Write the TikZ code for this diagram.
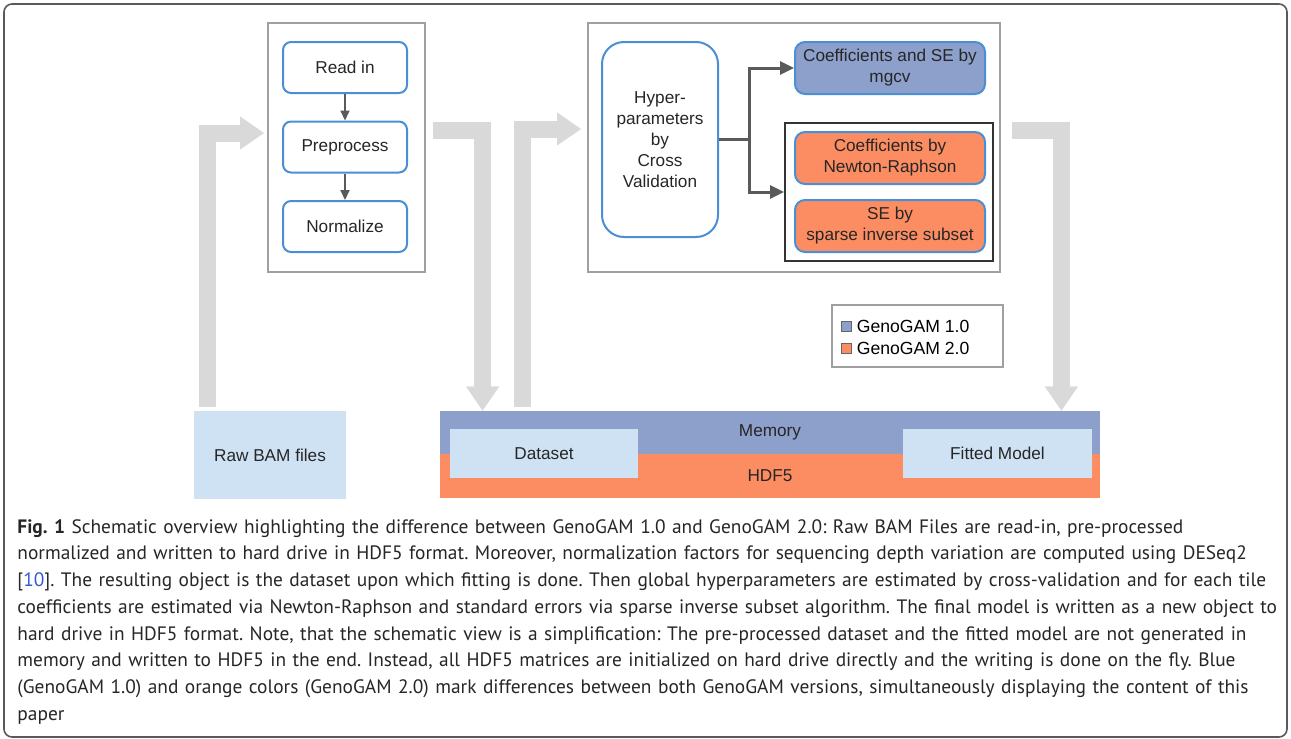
\documentclass[tikz,border=0pt]{standalone}
\usepackage{fontspec}
\setmainfont{Liberation Sans}
\newfontfamily\leyendafont{PT Sans}
\usetikzlibrary{arrows.meta,positioning}
\definecolor{grisflecha}{HTML}{D9D9D9}
\definecolor{grisborde}{HTML}{A0A0A0}
\definecolor{grisoscuro}{HTML}{5A5A5A}
\definecolor{bordeazul}{HTML}{4A8FD6}
\definecolor{azulclaro}{HTML}{CFE2F3}
\definecolor{azulgam}{HTML}{8DA0CB}
\definecolor{naranjagam}{HTML}{FC8D62}
\definecolor{enlace}{HTML}{2F5BD3}
\begin{document}
\begin{tikzpicture}[x=0.5pt,y=-0.5pt,
    texto/.style={font=\fontsize{8.6}{10.5}\selectfont, align=center, text=black!85},
    paso/.style={texto, draw=bordeazul, line width=1pt, rounded corners=4pt, fill=white,
        minimum width=62pt, minimum height=25.5pt},
    metodo/.style={texto, draw=bordeazul, line width=1pt, rounded corners=5pt,
        minimum width=95pt, minimum height=26pt, inner sep=1pt},
    caja/.style={draw=grisborde, line width=1pt},
    datos/.style={texto, fill=azulclaro, minimum width=94pt, minimum height=24.5pt},
    flechita/.style={draw=grisoscuro, line width=1pt, -{Triangle[length=5pt,width=4.5pt]}},
    conector/.style={draw=grisoscuro, line width=1.5pt},
    flechagris/.style={draw=grisflecha, line width=8.5pt, line join=miter,
        -{Triangle[length=12pt,width=16.5pt,line width=0.1pt]}},
    cuadrito/.style={draw=black!60, line width=0.4pt, minimum size=5pt, inner sep=0pt}]
    \useasboundingbox (0,0) rectangle (1291,739);

    % Marco
    \draw[draw=black!65, line width=0.8pt, rounded corners=4pt] (4,4) rectangle (1287,737);

    % Lectura y preproceso
    \node[caja, minimum width=78.5pt, minimum height=124.5pt] (leftbox) at (346.5,147.5) {};
    \node[paso] (readin) at (345,67.5) {Read in};
    \node[paso] (preproc) at (345,147) {Preprocess};
    \node[paso] (normalize) at (345,226.5) {Normalize};
    \draw[flechita] (readin) -- (preproc);
    \draw[flechita] (preproc) -- (normalize);

    % Ajuste
    \node[caja, minimum width=206pt, minimum height=124.5pt] (rightbox) at (794,147.5) {};
    \node[texto, draw=bordeazul, line width=1pt, rounded corners=11pt,
        minimum width=58pt, minimum height=97.5pt] (hyper) at (660,139.5)
        {Hyper-\\parameters\\by\\Cross\\Validation};
    \node[metodo, fill=azulgam] (mgcv) at (890,68) {Coefficients and SE by\\mgcv};
    \node[draw=black!80, line width=1pt, minimum width=104pt, minimum height=69pt] (innerbox) at (889,192) {};
    \node[metodo, fill=naranjagam] (newton) at (890,158) {Coefficients by\\Newton-Raphson};
    \node[metodo, fill=naranjagam] (sparse) at (890,226) {SE by\\sparse inverse subset};
    \draw[conector] (hyper.east) -- ++(30,0) coordinate (split);
    \draw[conector, -{Triangle[length=7pt,width=6.5pt]}] (split) |- (mgcv.west);
    \draw[conector, -{Triangle[length=7pt,width=6.5pt]}] (split) |- (innerbox.west);

    % Datos
    \node[texto, fill=azulclaro, minimum width=76pt, minimum height=44pt] (rawbam) at (270,455) {Raw BAM files};
    \node[texto, fill=azulgam, minimum width=330pt, minimum height=21.5pt] (memory) at (770,432.5) {Memory};
    \node[texto, fill=naranjagam, minimum width=330pt, minimum height=22pt] (hdf) at (770,476) {HDF5};
    \node[datos] (dataset) at (544,453.5) {Dataset};
    \node[datos, minimum width=94.5pt] (fitted) at (997.5,453.5) {Fitted Model};

    % Flechas grises
    \draw[flechagris] ([xshift=7pt,yshift=2pt]rawbam.north west) |- ([xshift=-1.5pt,yshift=7.25pt]leftbox.west);
    \draw[flechagris] ([xshift=3.5pt,yshift=8.75pt]leftbox.east) -| ([xshift=21.5pt]memory.north west);
    \draw[flechagris] ([xshift=41.5pt,yshift=2pt]memory.north west) |- ([xshift=-3pt,yshift=9.25pt]rightbox.west);
    \draw[flechagris] ([xshift=5.5pt,yshift=8.75pt]rightbox.east) -| ([xshift=-19.5pt]memory.north east);

    % Leyenda
    \node[draw=grisborde, line width=0.8pt, minimum width=85.5pt, minimum height=31pt] (legend) at (917.5,336) {};
    \node[cuadrito, fill=azulgam] (sq1) at (846,326) {};
    \node[cuadrito, fill=naranjagam] (sq2) at (846,348.5) {};
    \node[font=\fontsize{8.8}{10}\selectfont, anchor=west, inner sep=0pt, right=2.5pt of sq1] (gam1) {GenoGAM 1.0};
    \node[font=\fontsize{8.8}{10}\selectfont, anchor=west, inner sep=0pt, right=2.5pt of sq2] (gam2) {GenoGAM 2.0};

    % Pie de figura
    \node[anchor=north west, inner sep=0pt, text width=645pt, align=left, text=black!85,
        font=\leyendafont\fontsize{9.7}{13.35}\selectfont\frenchspacing] (caption) at (17,519)
        {\textbf{Fig. 1} Schematic overview highlighting the difference between GenoGAM 1.0 and GenoGAM 2.0: Raw BAM Files are read-in, pre-processed\\
        normalized and written to hard drive in HDF5 format. Moreover, normalization factors for sequencing depth variation are computed using DESeq2\\
        \relax[\textcolor{enlace}{10}]. The resulting object is the dataset upon which fitting is done. Then global hyperparameters are estimated by cross-validation and for each tile\\
        coefficients are estimated via Newton-Raphson and standard errors via sparse inverse subset algorithm. The final model is written as a new object to\\
        hard drive in HDF5 format. Note, that the schematic view is a simplification: The pre-processed dataset and the fitted model are not generated in\\
        memory and written to HDF5 in the end. Instead, all HDF5 matrices are initialized on hard drive directly and the writing is done on the fly. Blue\\
        (GenoGAM 1.0) and orange colors (GenoGAM 2.0) mark differences between both GenoGAM versions, simultaneously displaying the content of this\\
        paper};
\end{tikzpicture}
\end{document}
